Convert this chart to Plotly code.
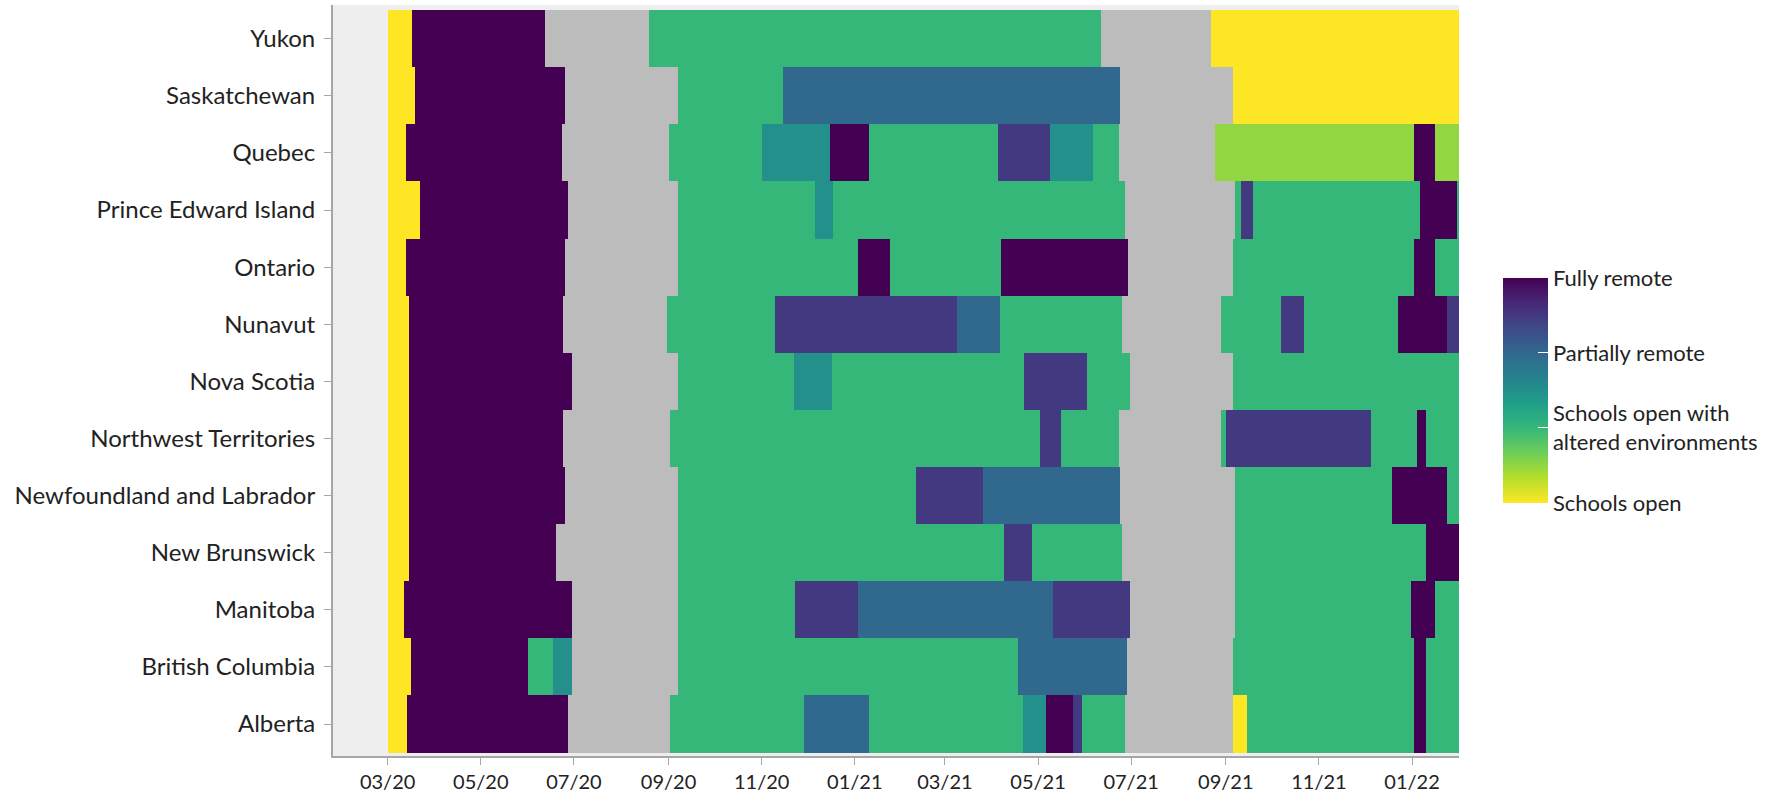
import pandas as pd
import plotly.graph_objects as go

# ---------------- data ----------------
PROVINCES = ["Alberta", "British Columbia", "Manitoba", "New Brunswick",
             "Newfoundland and Labrador", "Northwest Territories", "Nova Scotia",
             "Nunavut", "Ontario", "Prince Edward Island", "Quebec",
             "Saskatchewan", "Yukon"]

# status level: 1 open, 2 open w/ altered env., 3 partially remote, 4 fully remote
# None = summer break
STATUS_TICKS = [1, 2, 3, 4]
STATUS_LABELS = ["Schools open", "Schools open with<br>altered environments",
                 "Partially remote", "Fully remote"]

YUKON_BREAKS = ["2020-03-01", "2020-03-17", "2020-06-12", "2020-08-19", "2021-06-11",
                "2021-08-22", "2022-02-01"]
YUKON_LEVELS = [1, 4, None, 2, None, 1]

SASK_BREAKS = ["2020-03-01", "2020-03-19", "2020-06-25", "2020-09-07", "2020-11-15",
               "2021-06-24", "2021-09-06", "2022-02-01"]
SASK_LEVELS = [1, 4, None, 2, 3, None, 1]

QC_BREAKS = ["2020-03-01", "2020-03-13", "2020-06-23", "2020-09-01", "2020-11-01",
             "2020-12-16", "2021-01-10", "2021-04-05", "2021-05-09", "2021-06-06",
             "2021-06-23", "2021-08-25", "2022-01-02", "2022-01-16", "2022-02-01"]
QC_LEVELS = [1, 4, None, 2, 2.5, 4, 2, 3.5, 2.5, 2, None, 1.5, 4, 1.5]

PEI_BREAKS = ["2020-03-01", "2020-03-22", "2020-06-27", "2020-09-07", "2020-12-06",
              "2020-12-18", "2021-06-27", "2021-09-07", "2021-09-11", "2021-09-19",
              "2022-01-06", "2022-01-31", "2022-02-01"]
PEI_LEVELS = [1, 4, None, 2, 2.5, 2, None, 2, 3.5, 2, 4, 2]

ON_BREAKS = ["2020-03-01", "2020-03-13", "2020-06-25", "2020-09-07", "2021-01-03",
             "2021-01-24", "2021-04-07", "2021-06-29", "2021-09-06", "2022-01-02",
             "2022-01-16", "2022-02-01"]
ON_LEVELS = [1, 4, None, 2, 4, 2, 4, None, 2, 4, 2]

NU_BREAKS = ["2020-03-01", "2020-03-15", "2020-06-24", "2020-08-31", "2020-11-10",
             "2021-03-09", "2021-04-06", "2021-06-25", "2021-08-29", "2021-10-07",
             "2021-10-22", "2021-12-23", "2022-01-24", "2022-02-01"]
NU_LEVELS = [1, 4, None, 2, 3.5, 3, 2, None, 2, 3.5, 2, 4, 3.5]

NS_BREAKS = ["2020-03-01", "2020-03-15", "2020-06-30", "2020-09-07", "2020-11-22",
             "2020-12-17", "2021-04-22", "2021-06-02", "2021-06-30", "2021-09-06",
             "2022-02-01"]
NS_LEVELS = [1, 4, None, 2, 2.5, 2, 3.5, 2, None, 2]

NT_BREAKS = ["2020-03-01", "2020-03-15", "2020-06-24", "2020-09-02", "2021-05-02",
             "2021-05-16", "2021-06-23", "2021-08-29", "2021-09-01", "2021-12-05",
             "2022-01-04", "2022-01-10", "2022-02-01"]
NT_LEVELS = [1, 4, None, 2, 3.5, 2, None, 2, 3.5, 2, 4, 2]

NL_BREAKS = ["2020-03-01", "2020-03-15", "2020-06-25", "2020-09-07", "2021-02-10",
             "2021-03-26", "2021-06-24", "2021-09-07", "2021-12-19", "2022-01-24",
             "2022-02-01"]
NL_LEVELS = [1, 4, None, 2, 3.5, 3, None, 2, 4, 2]

NB_BREAKS = ["2020-03-01", "2020-03-15", "2020-06-19", "2020-09-07", "2021-04-09",
             "2021-04-27", "2021-06-25", "2021-09-07", "2022-01-10", "2022-02-01"]
NB_LEVELS = [1, 4, None, 2, 3.5, 2, None, 2, 4]

MB_BREAKS = ["2020-03-01", "2020-03-12", "2020-06-30", "2020-09-07", "2020-11-23",
             "2021-01-03", "2021-05-11", "2021-06-30", "2021-09-07", "2021-12-31",
             "2022-01-16", "2022-02-01"]
MB_LEVELS = [1, 4, None, 2, 3.5, 3, 3.5, None, 2, 4, 2]

BC_BREAKS = ["2020-03-01", "2020-03-16", "2020-06-01", "2020-06-17", "2020-06-30",
             "2020-09-07", "2021-04-18", "2021-06-28", "2021-09-06", "2022-01-02",
             "2022-01-10", "2022-02-01"]
BC_LEVELS = [1, 4, 2, 2.5, None, 2, 3, None, 2, 4, 2]

AB_BREAKS = ["2020-03-01", "2020-03-14", "2020-06-27", "2020-09-02", "2020-11-29",
             "2021-01-10", "2021-04-21", "2021-05-06", "2021-05-24", "2021-05-30",
             "2021-06-27", "2021-09-06", "2021-09-15", "2022-01-02", "2022-01-10",
             "2022-02-01"]
AB_LEVELS = [1, 4, None, 2, 3, 2, 2.5, 4, 3.5, 2, None, 1, 2, 4, 2]

ROWS = {
    "Yukon": (YUKON_BREAKS, YUKON_LEVELS),
    "Saskatchewan": (SASK_BREAKS, SASK_LEVELS),
    "Quebec": (QC_BREAKS, QC_LEVELS),
    "Prince Edward Island": (PEI_BREAKS, PEI_LEVELS),
    "Ontario": (ON_BREAKS, ON_LEVELS),
    "Nunavut": (NU_BREAKS, NU_LEVELS),
    "Nova Scotia": (NS_BREAKS, NS_LEVELS),
    "Northwest Territories": (NT_BREAKS, NT_LEVELS),
    "Newfoundland and Labrador": (NL_BREAKS, NL_LEVELS),
    "New Brunswick": (NB_BREAKS, NB_LEVELS),
    "Manitoba": (MB_BREAKS, MB_LEVELS),
    "British Columbia": (BC_BREAKS, BC_LEVELS),
    "Alberta": (AB_BREAKS, AB_LEVELS),
}

# ---------------- build segments ----------------
c_y, c_base, c_len, c_val = [], [], [], []
g_y, g_base, g_len = [], [], []
for prov, (breaks, levels) in ROWS.items():
    for i, lv in enumerate(levels):
        s = pd.Timestamp(breaks[i])
        e = pd.Timestamp(breaks[i + 1])
        dur = (e - s).total_seconds() * 1000.0
        if lv is None:
            g_y.append(prov); g_base.append(breaks[i]); g_len.append(dur)
        else:
            c_y.append(prov); c_base.append(breaks[i]); c_len.append(dur); c_val.append(lv)

FONT = "Lato"

fig = go.Figure()
fig.add_trace(go.Bar(
    orientation="h", y=g_y, base=g_base, x=g_len, width=1,
    marker=dict(color="#bcbcbc", line=dict(width=0)),
    showlegend=False, hoverinfo="skip",
))
fig.add_trace(go.Bar(
    orientation="h", y=c_y, base=c_base, x=c_len, width=1,
    marker=dict(
        color=c_val, colorscale="Viridis", reversescale=True, cmin=1, cmax=4,
        line=dict(width=0),
        colorbar=dict(
            tickvals=STATUS_TICKS, ticktext=STATUS_LABELS,
            thickness=45, lenmode="pixels", len=245,
            x=1.030, xanchor="left", y=0.4867, yanchor="middle",
            outlinewidth=0, ticks="inside", ticklen=10, tickcolor="white",
            tickwidth=1,
            tickfont=dict(family=FONT, size=22, color="#222222"),
        ),
        showscale=True,
    ),
    showlegend=False,
))

fig.update_layout(
    width=1788, height=798,
    margin=dict(l=333, r=329, t=5, b=36),
    paper_bgcolor="white", plot_bgcolor="#eeeeee",
    barmode="overlay", bargap=0,
    font=dict(family=FONT, color="#222222"),
)
fig.update_xaxes(
    type="date", range=["2020-01-25 05:00", "2022-01-31 18:00"],
    tick0="2020-03-01", dtick="M2", tickformat="%m/%y",
    ticks="outside", ticklen=7, tickcolor="#a6a6a6", tickwidth=1,
    showline=True, linecolor="#a6a6a6", linewidth=2,
    showgrid=False, zeroline=False,
    tickfont=dict(family=FONT, size=20, color="#222222"),
)
fig.update_yaxes(
    type="category", categoryorder="array", categoryarray=PROVINCES,
    range=[-0.56, 12.59],
    ticks="outside", ticklen=7, tickcolor="#a6a6a6", tickwidth=1,
    showline=True, linecolor="#a6a6a6", linewidth=2,
    showgrid=False, zeroline=False, ticklabelstandoff=4,
    tickfont=dict(family=FONT, size=24, color="#222222"),
)

fig.write_html("out.html", config={"displayModeBar": False},
               post_script="document.body.style.margin='0';")
